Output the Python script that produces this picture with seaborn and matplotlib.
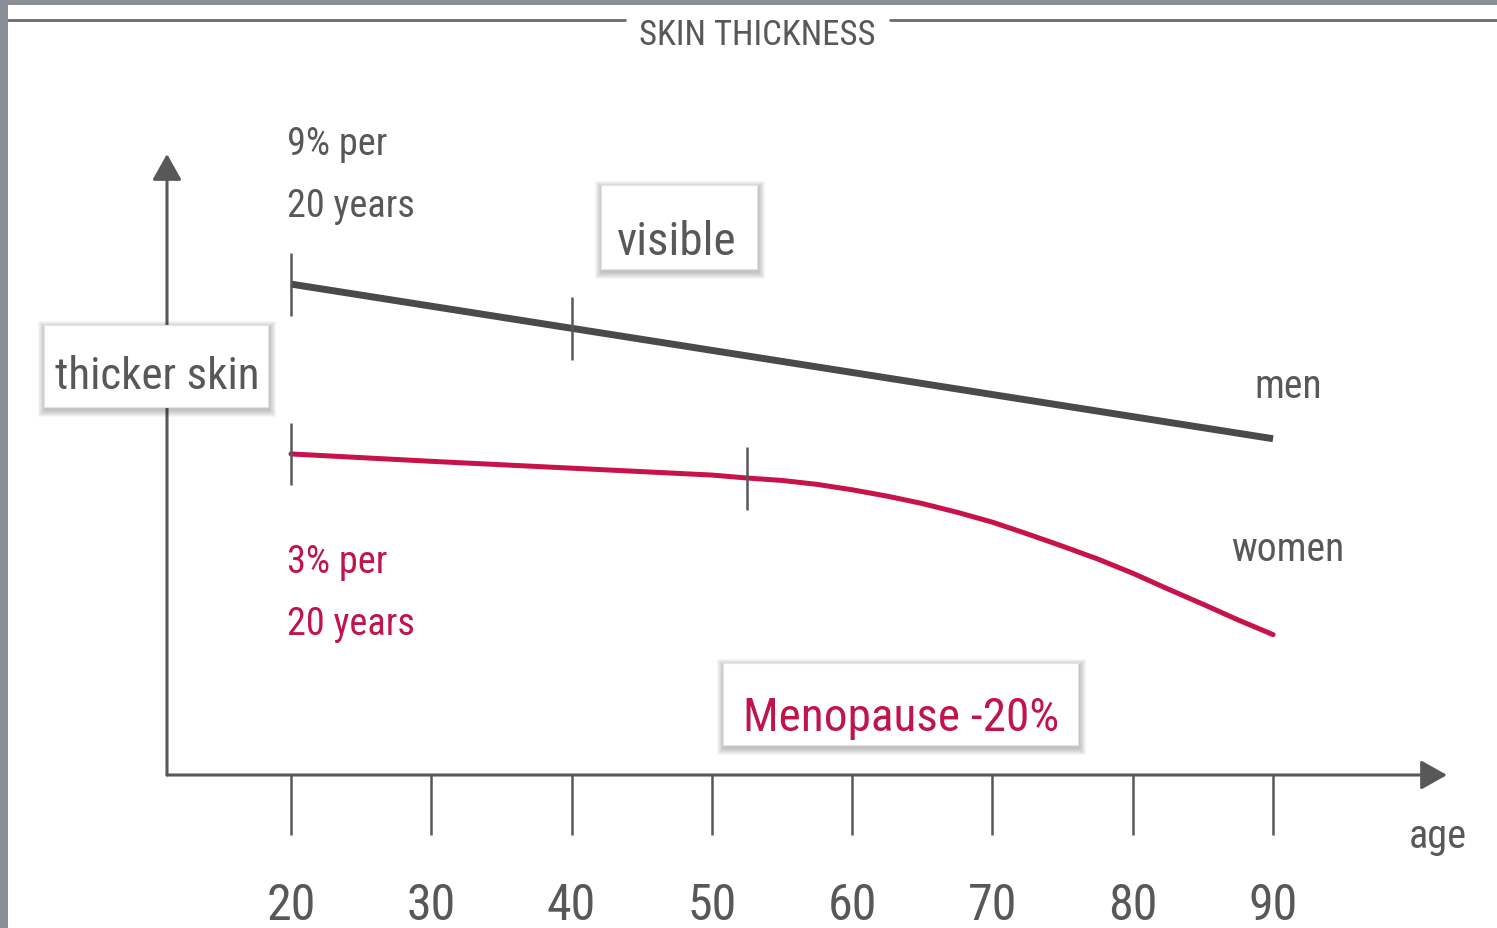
import matplotlib
matplotlib.use("Agg")
import numpy as np
import matplotlib.pyplot as plt
import seaborn as sns
from matplotlib import font_manager
from matplotlib.patches import Rectangle
from matplotlib.lines import Line2D

# ---- data (relative skin thickness, men at 20 = 100) ----
men_ages = [20, 30, 40, 50, 60, 70, 80, 90]
men_thickness = [100, 95.5, 91, 86.5, 82, 77.5, 73, 68.5]
women_ages = [20, 30, 40, 50, 52.5, 55, 57.5, 60, 62.5, 65, 67.5, 70,
              72.5, 75, 77.5, 80, 82.5, 85, 87.5, 90]
women_thickness = [65.4, 63.9, 62.5, 61.1, 60.5, 60.0, 59.2, 58.1, 56.8, 55.3, 53.5, 51.5,
                   49.1, 46.6, 44.0, 41.1, 37.9, 34.8, 31.6, 28.6]
men_mark_ages = [20, 40]
men_mark_vals = [100, 91]
women_mark_ages = [20, 52.5]
women_mark_vals = [65.4, 60.4]
age_ticks = [20, 30, 40, 50, 60, 70, 80, 90]
age_labels = ["20", "30", "40", "50", "60", "70", "80", "90"]

GRAY = "#585858"
RED = "#c0144a"
LINE_RED = "#c8124a"

sns.set_style("white")
available = {f.name for f in font_manager.fontManager.ttflist}
font = "DejaVu Sans"
for cand in ["Liberation Sans Narrow", "Roboto Condensed", "Open Sans Condensed", "Roboto"]:
    if cand in available:
        font = cand
        break
plt.rcParams["font.family"] = [font, "DejaVu Sans"]

W, H = 1497, 929
fig = plt.figure(figsize=(W / 100, H / 100), dpi=100)
fig.patch.set_facecolor("white")


def fx(x):
    return x / W


def fy(y):
    return 1 - y / H


# axes box: y axis at x=167, x axis at y=776, arrows end at x=1447 / y=155
ax = fig.add_axes([fx(167), fy(776), (1447 - 167) / W, (776 - 155) / H])
ax.set_xlim(11.16, 102.4)
ax.set_ylim(0, 126.5)
for s in ax.spines.values():
    s.set_visible(False)
ax.set_yticks([])
ax.set_xticks(age_ticks)
ax.set_xticklabels(age_labels)
ax.tick_params(axis="x", bottom=True, direction="out", length=43, width=1.8, color=GRAY,
               pad=33, labelsize=36, labelcolor=GRAY)
ax.set_facecolor("none")

arrow = dict(arrowstyle="-|>,head_length=0.8,head_width=0.45", mutation_scale=20,
             lw=2.2, color=GRAY, shrinkA=0, shrinkB=0)
ax.annotate("", xy=(1, 0), xytext=(0, 0), xycoords="axes fraction", arrowprops=arrow)
ax.annotate("", xy=(0, 1), xytext=(0, 0), xycoords="axes fraction", arrowprops=arrow)

# lines
sns.lineplot(x=men_ages, y=men_thickness, color="#4a4a4a", linewidth=5, ax=ax,
             solid_capstyle="butt")
sns.lineplot(x=women_ages, y=women_thickness, color=LINE_RED, linewidth=3.6, ax=ax,
             solid_joinstyle="round", solid_capstyle="round")

half = 6.4
mv = np.array(men_mark_vals)
wv = np.array(women_mark_vals)
ax.vlines(men_mark_ages, mv - half, mv + half, color=GRAY, lw=1.8, zorder=4)
ax.vlines(women_mark_ages, wv - half, wv + half, color=GRAY, lw=1.8, zorder=4)

# border strips
fig.add_artist(Rectangle((0, 0), fx(8), 1, transform=fig.transFigure,
                         facecolor="#8a8f97", edgecolor="none", zorder=10))
fig.add_artist(Rectangle((0, fy(6)), 1, 6 / H, transform=fig.transFigure,
                         facecolor="#8a8f97", edgecolor="none", zorder=10))

# title with rules
fig.add_artist(Line2D([fx(8), fx(625)], [fy(21), fy(21)], transform=fig.transFigure,
                      color="#6a6a6a", lw=2))
fig.add_artist(Line2D([fx(890), fx(1497)], [fy(21), fy(21)], transform=fig.transFigure,
                      color="#6a6a6a", lw=2))
fig.text(fx(757), fy(45), "SKIN THICKNESS", ha="center", va="baseline",
         fontsize=25, color=GRAY)


def shadow_box(x0, y0, x1, y1):
    for i in range(7, 0, -1):
        fig.add_artist(Rectangle((fx(x0 - i + 1), fy(y1 + i + 3)),
                                 (x1 - x0 + 2 * i) / W, (y1 - y0 + 2 * i) / H,
                                 transform=fig.transFigure, facecolor="black",
                                 edgecolor="none", alpha=0.035, zorder=4))
    fig.add_artist(Rectangle((fx(x0), fy(y1)), (x1 - x0) / W, (y1 - y0) / H,
                             transform=fig.transFigure, facecolor="white",
                             edgecolor="#e4e4e4", lw=0.8, zorder=5))


shadow_box(601, 186, 757, 270)
shadow_box(44, 326, 268, 408)
shadow_box(723, 664, 1078, 746)

txt = dict(va="baseline", zorder=6)
fig.text(fx(677), fy(255), "visible", ha="center", fontsize=34, color=GRAY, **txt)
fig.text(fx(157), fy(389), "thicker skin", ha="center", fontsize=32.5, color=GRAY, **txt)
fig.text(fx(901), fy(731), "Menopause -20%", ha="center", fontsize=34, color=RED, **txt)

fig.text(fx(287), fy(155), "9% per", ha="left", fontsize=27.5, color=GRAY, **txt)
fig.text(fx(287), fy(217), "20 years", ha="left", fontsize=27.5, color=GRAY, **txt)
fig.text(fx(287), fy(573), "3% per", ha="left", fontsize=27.5, color=RED, **txt)
fig.text(fx(287), fy(635), "20 years", ha="left", fontsize=27.5, color=RED, **txt)

fig.text(fx(1288), fy(398), "men", ha="center", fontsize=28.5, color=GRAY, **txt)
fig.text(fx(1288), fy(561), "women", ha="center", fontsize=28.5, color=GRAY, **txt)
fig.text(fx(1438), fy(848), "age", ha="center", fontsize=29, color=GRAY, **txt)

fig.savefig("out.png", dpi=100)
